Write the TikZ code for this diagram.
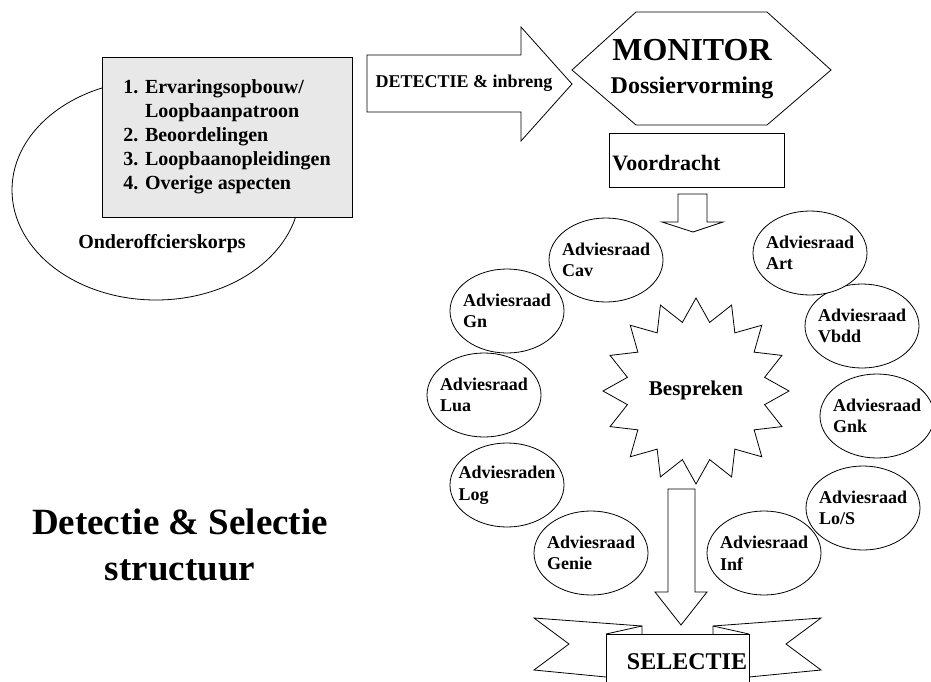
\documentclass[tikz,border=0pt]{standalone}
\usepackage{fontspec}
\setmainfont{Liberation Serif}
\usetikzlibrary{shapes.geometric}
\begin{document}
\begin{tikzpicture}[x=1pt,y=-1pt,line width=0.8pt,
  every node/.style={font=\bfseries},
  advell/.style={draw,ellipse,fill=white,minimum width=114pt,minimum height=84pt,inner sep=0pt},
  advtext/.style={align=left,inner sep=0pt,font=\fontsize{18}{21.5}\selectfont\bfseries},
  blockarrow/.style={draw,fill=white,line join=miter}]
\useasboundingbox (0,0) rectangle (931,682);
\clip (0,0) rectangle (931,682);

% left ellipse and list box
\node[draw,ellipse,minimum width=288pt,minimum height=220pt,inner sep=0pt] (korps) at (156,190) {};
\node[font=\fontsize{20}{24}\selectfont\bfseries] (korpslabel) at (162,244) {Onderoffcierskorps};
\node[draw,fill=gray!18,minimum width=250pt,minimum height=160pt,align=left,inner sep=0pt,
      font=\fontsize{20}{24}\selectfont\bfseries] (list) at (227,137)
  {1. Ervaringsopbouw/\\\hphantom{1. }Loopbaanpatroon\\2. Beoordelingen\\3. Loopbaanopleidingen\\4. Overige aspecten};

% big right arrow
\draw[blockarrow] (367,55) -- (521,55) -- (521,27) -- (572,84) -- (521,141) -- (521,112) -- (367,112) -- cycle;
\node[font=\fontsize{18}{21}\selectfont\bfseries] (detectie) at (464,83) {DETECTIE \& inbreng};

% monitor hexagon
\draw[blockarrow] (572,70) -- (636,12) -- (767,12) -- (831,70) -- (767,125) -- (636,125) -- cycle;
\node[font=\fontsize{32}{36}\selectfont\bfseries] (monitor) at (692,50) {MONITOR};
\node[font=\fontsize{24}{28}\selectfont\bfseries] (dossier) at (692,88) {Dossiervorming};

% voordracht
\draw (609,133) rectangle (784,187);
\node[anchor=west,font=\fontsize{22}{26}\selectfont\bfseries,inner sep=0pt] (voordracht) at (612,163) {Voordracht};

% small down arrow
\draw[blockarrow] (678,194) -- (707,194) -- (707,222) -- (723,222) -- (693,232) -- (662,222) -- (678,222) -- cycle;

% star
\node[draw,star,star points=16,star point ratio=1.33,minimum size=186pt,inner sep=0pt] (star) at (696,391) {};
\node[font=\fontsize{21}{24}\selectfont\bfseries] (bespreken) at (696,390) {Bespreken};

% advisory councils
\node[advell] (cav) at (606,260) {};
\node[advtext] at (cav) {Adviesraad\\Cav};
\node[advell] (gn) at (507,311) {};
\node[advtext] at (gn) {Adviesraad\\Gn};
\node[advell] (lua) at (484,395) {};
\node[advtext] at (lua) {Adviesraad\\Lua};
\node[advell] (log) at (507,485) {};
\node[advtext] at (log) {Adviesraden\\Log};
\node[advell] (genie) at (591,553) {};
\node[advtext] at (genie) {Adviesraad\\Genie};
\node[advell] (inf) at (764,553) {};
\node[advtext] at (inf) {Adviesraad\\Inf};
\node[advell] (los) at (863,508) {};
\node[advtext] at (los) {Adviesraad\\Lo/S};
\node[advell] (gnk) at (877,416) {};
\node[advtext] at (gnk) {Adviesraad\\Gnk};
\node[advell] (vbdd) at (862,326) {};
\node[advtext] at (vbdd) {Adviesraad\\Vbdd};
\node[advell] (art) at (810,253) {};
\node[advtext] at (art) {Adviesraad\\Art};

% big down arrow
\draw[blockarrow] (668,489) -- (695,489) -- (695,592) -- (707,592) -- (681,625) -- (655,592) -- (668,592) -- cycle;

% ribbon
\draw[blockarrow] (534,618) -- (642,626) -- (642,660) -- (606,677) -- (534,670) -- (569,644) -- cycle;
\draw[blockarrow] (821,618) -- (713,626) -- (713,660) -- (749,677) -- (821,670) -- (786,644) -- cycle;
\draw[fill=white] (606,634) rectangle (749,700);
\draw (606,634) -- (642,626);
\draw (749,634) -- (713,626);
\node[font=\fontsize{24}{28}\selectfont\bfseries] (selectie) at (687,662) {SELECTIE};

% title
\node[align=center,font=\fontsize{37}{46}\selectfont\bfseries] (title) at (180,545) {Detectie \& Selectie\\structuur};
\end{tikzpicture}
\end{document}
